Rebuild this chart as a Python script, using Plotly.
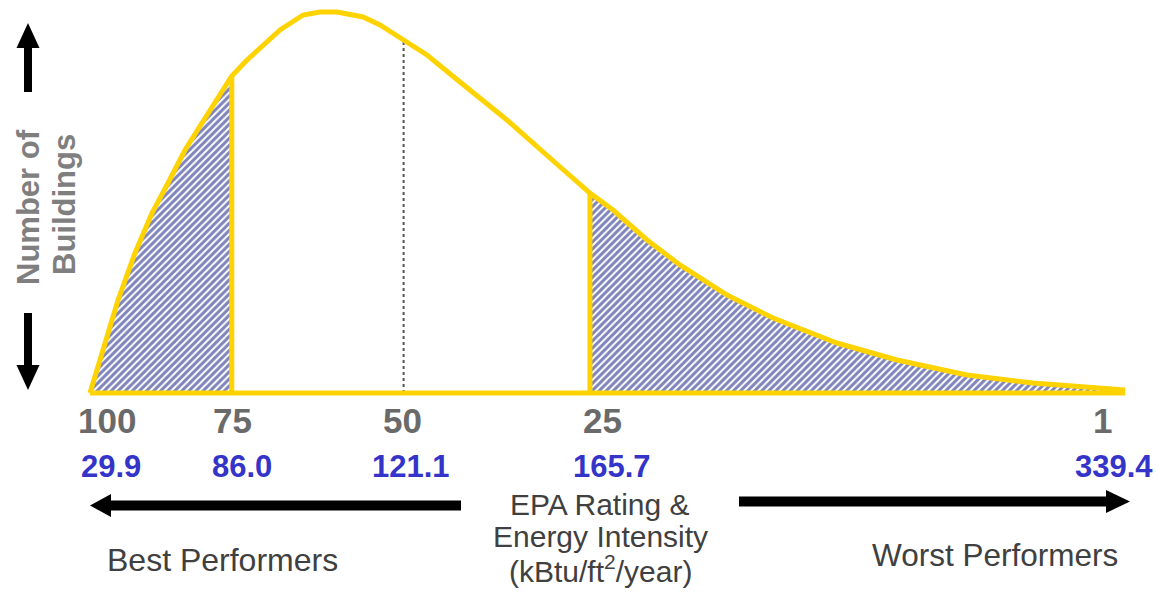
import plotly.graph_objects as go

# ---------------- data ----------------
# position along the rating scale (0 = best / left end, 100 = worst / right end)
positions = [0.0, 1.45, 2.71, 4.35, 5.99, 7.54, 9.18, 10.82, 12.37, 13.7, 15.17, 16.62,
             18.36, 20.58, 22.22, 23.86, 26.38, 28.02, 30.3, 32.56, 35.75, 40.29, 44.44,
             48.3, 50.53, 53.82, 57.0, 61.55, 65.99, 72.17, 77.97, 84.73, 91.11, 100.0]
# relative number of buildings (peak = 100)
counts = [0.0, 13.12, 24.41, 36.75, 47.24, 55.12, 63.78, 70.87, 77.69, 83.2, 87.4, 91.08,
          95.28, 99.21, 100.0, 100.0, 98.69, 96.59, 92.65, 88.71, 81.63, 71.65, 61.68,
          52.49, 48.03, 40.16, 33.6, 25.72, 19.69, 13.12, 8.66, 4.72, 2.62, 0.79]

ratings = ["100", "75", "50", "25", "1"]
rating_pos = [0.0, 13.7, 30.3, 48.3, 100.0]
intensity = ["29.9", "86.0", "121.1", "165.7", "339.4"]

# label placement (positions on the same scale)
rating_label_x = [1.64, 13.72, 30.19, 49.47, 97.87]
intensity_label_x = [2.03, 14.69, 31.01, 50.43, 98.94]

# ---------------- layout geometry ----------------
W, H = 1157, 598
X0PX, XSCALE = 90, 10.35
Y0PX, YSCALE = 393, 3.81
xr = [(0 - X0PX) / XSCALE, (W - X0PX) / XSCALE]
yr = [(Y0PX - H) / YSCALE, Y0PX / YSCALE]


def py(v):  # pixel row -> data y
    return (Y0PX - v) / YSCALE


def px(v):
    return v / W


def pyp(v):
    return 1 - v / H


GOLD = "#FFD300"
NAVY = "#000a78"
GRAY_BOLD = "#6a6a6a"
BLUE = "#3434c8"
TEXT = "#404040"
FONT = "Liberation Sans"

fig = go.Figure()

pos75 = rating_pos[1]
pos50 = rating_pos[2]
pos25 = rating_pos[3]
left_x = [p for p in positions if p <= pos75]
left_y = [c for p, c in zip(positions, counts) if p <= pos75]
right_x = [p for p in positions if p >= pos25]
right_y = [c for p, c in zip(positions, counts) if p >= pos25]

pattern = dict(shape="/", fgcolor=NAVY, bgcolor="white", size=5, solidity=0.6)
for xs, ys in [(left_x, left_y), (right_x, right_y)]:
    fig.add_trace(go.Scatter(x=xs, y=ys, mode="lines", fill="tozeroy",
                             fillcolor="white", fillpattern=pattern,
                             line=dict(width=0, color=GOLD), hoverinfo="skip",
                             showlegend=False))

# dotted median line
c50 = counts[positions.index(pos50)]
fig.add_trace(go.Scatter(x=[pos50, pos50], y=[0, c50], mode="lines",
                         line=dict(color="#555555", width=2, dash="dot"),
                         showlegend=False, hoverinfo="skip"))

# vertical boundaries at 75 and 25
for p in (pos75, pos25):
    c = counts[positions.index(p)]
    fig.add_trace(go.Scatter(x=[p, p], y=[0, c], mode="lines",
                             line=dict(color=GOLD, width=5),
                             showlegend=False, hoverinfo="skip"))

# baseline
fig.add_trace(go.Scatter(x=[positions[0], positions[-1]], y=[0, 0], mode="lines",
                         line=dict(color=GOLD, width=5), showlegend=False,
                         hoverinfo="skip"))

# distribution curve
fig.add_trace(go.Scatter(x=positions, y=counts, mode="lines",
                         line=dict(color=GOLD, width=5),
                         showlegend=False, hoverinfo="skip"))

# ---------------- arrows ----------------
shapes = []


def rect(x0, x1, y0, y1):
    shapes.append(dict(type="rect", xref="paper", yref="paper",
                       x0=px(x0), x1=px(x1), y0=pyp(y1), y1=pyp(y0),
                       fillcolor="black", line=dict(width=0)))


def tri(pts):
    d = "M " + " L ".join(f"{px(a):.5f},{pyp(b):.5f}" for a, b in pts) + " Z"
    shapes.append(dict(type="path", xref="paper", yref="paper", path=d,
                       fillcolor="black", line=dict(width=0)))


# up arrow
rect(24, 32, 45, 92)
tri([(28, 23), (16.5, 48), (39.5, 48)])
# down arrow
rect(24, 32, 313, 367)
tri([(16.5, 365), (39.5, 365), (28, 390)])
# left arrow
rect(108, 461, 500.5, 510.5)
tri([(90, 505.5), (111, 494), (111, 517)])
# right arrow
rect(739, 1108, 496.5, 506.5)
tri([(1130, 501.5), (1106, 490), (1106, 513)])

# ---------------- text ----------------
ann = []
for lab, x in zip(ratings, rating_label_x):
    ann.append(dict(x=x, y=py(420.5), xref="x", yref="y", text=f"<b>{lab}</b>",
                    showarrow=False, xanchor="center", yanchor="middle",
                    font=dict(family=FONT, size=35, color=GRAY_BOLD)))
for lab, x in zip(intensity, intensity_label_x):
    ann.append(dict(x=x, y=py(466.5), xref="x", yref="y", text=f"<b>{lab}</b>",
                    showarrow=False, xanchor="center", yanchor="middle",
                    font=dict(family=FONT, size=31, color=BLUE)))

ann.append(dict(x=px(28), y=pyp(207), xref="paper", yref="paper",
                text="<b>Number of</b>", textangle=-90, showarrow=False,
                xanchor="center", yanchor="middle",
                font=dict(family=FONT, size=31, color="#7f7f7f")))
ann.append(dict(x=px(64), y=pyp(205), xref="paper", yref="paper",
                text="<b>Buildings</b>", textangle=-90, showarrow=False,
                xanchor="center", yanchor="middle",
                font=dict(family=FONT, size=31, color="#7f7f7f")))

center_lines = ["EPA Rating &amp;", "Energy Intensity", "(kBtu/ft<sup>2</sup>/year)"]
center_rows = [504, 536, 569]
for t, r in zip(center_lines, center_rows):
    ann.append(dict(x=px(600), y=pyp(r), xref="paper", yref="paper", text=t,
                    showarrow=False, xanchor="center", yanchor="middle",
                    font=dict(family=FONT, size=30, color=TEXT)))

ann.append(dict(x=px(222), y=pyp(560), xref="paper", yref="paper",
                text="Best Performers", showarrow=False, xanchor="center",
                yanchor="middle", font=dict(family=FONT, size=32, color=TEXT)))
ann.append(dict(x=px(995), y=pyp(555), xref="paper", yref="paper",
                text="Worst Performers", showarrow=False, xanchor="center",
                yanchor="middle", font=dict(family=FONT, size=31.5, color=TEXT)))

fig.update_layout(
    width=W, height=H,
    margin=dict(l=0, r=0, t=0, b=0),
    paper_bgcolor="white", plot_bgcolor="white",
    xaxis=dict(range=xr, visible=False, fixedrange=True),
    yaxis=dict(range=yr, visible=False, fixedrange=True),
    shapes=shapes, annotations=ann, showlegend=False,
)

fig.write_html("out.html", config={"displayModeBar": False},
               post_script="document.body.style.margin='0';document.body.style.overflow='hidden';")
